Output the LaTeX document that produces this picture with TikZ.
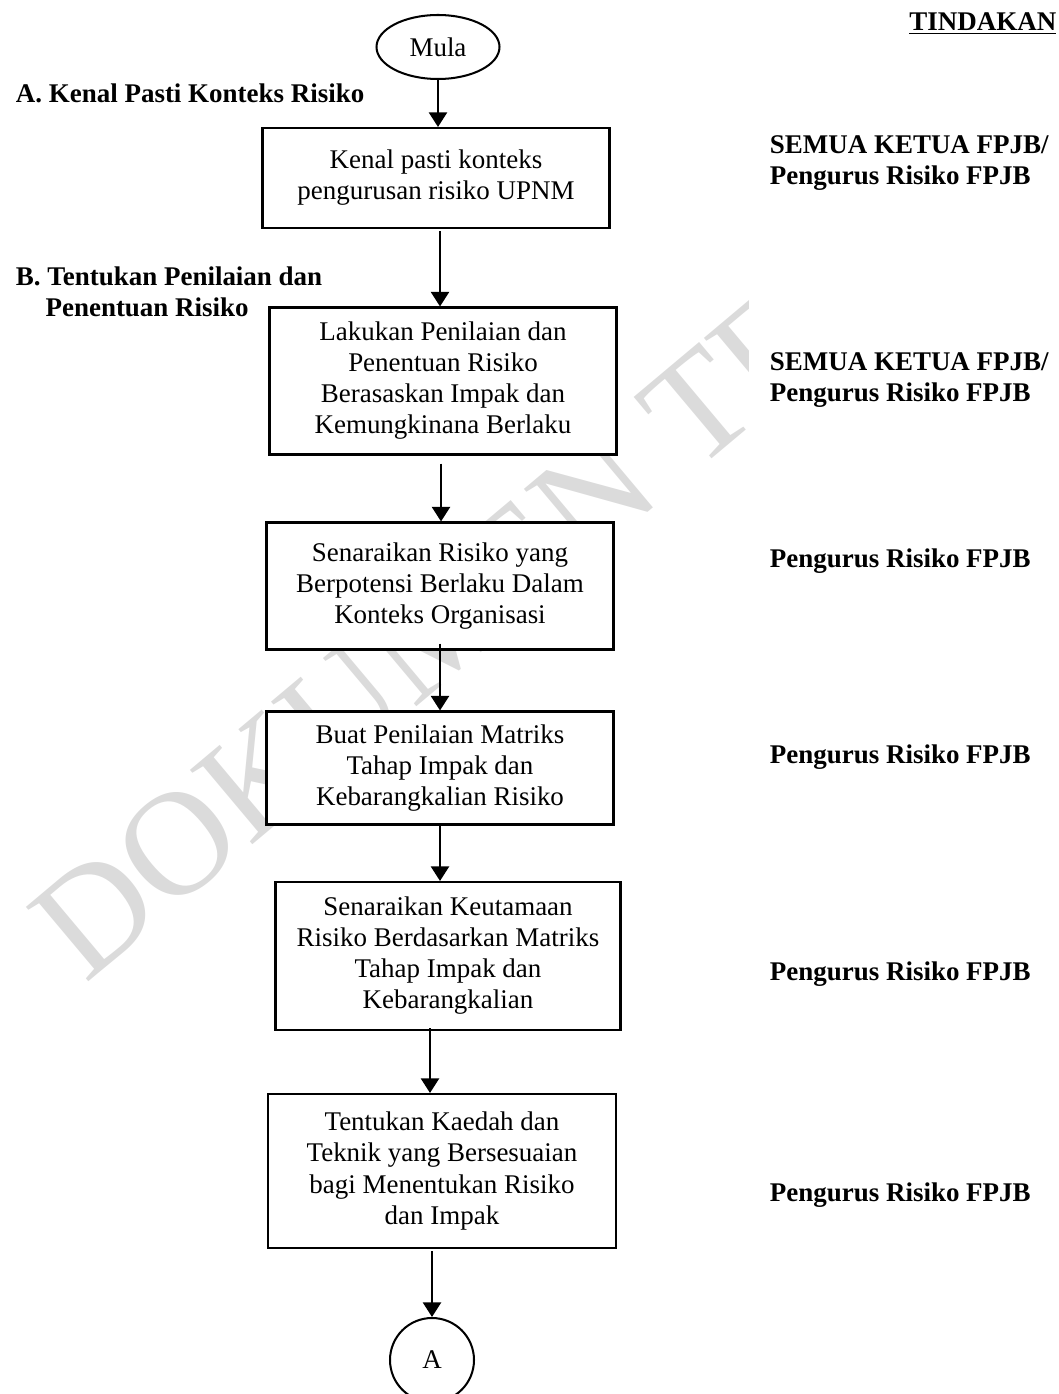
\documentclass[tikz,border=0pt]{standalone}
\usepackage{fontspec}
\setmainfont{Liberation Serif}
\usetikzlibrary{arrows.meta, shapes.geometric}

\newcommand{\pxl}{0.445pt}
\newcommand{\teks}{\fontsize{12}{13.8}\selectfont}

\tikzset{
  langkah/.style={draw, line width=0.9pt, fill=white, align=center, inner sep=2pt},
  panah/.style={line width=1.1pt, -{Triangle[length=6.5pt,width=8pt]}},
  tajuk/.style={anchor=west, font=\teks\bfseries, align=left},
  pegawai/.style={anchor=west, font=\teks\bfseries, align=left},
}

\begin{document}
\begin{tikzpicture}[x=\pxl, y=-\pxl, font=\teks]
\useasboundingbox (0,0) rectangle (1059,1394);

% tera air
\begin{scope}
\clip (0,0) rectangle (748,1394);
\node[rotate=40, text=black!14, anchor=base west, inner sep=0pt,
  font=\fontsize{66}{66}\selectfont] (tera) at (85,985) {DOKUMEN TERKAWAL};
\end{scope}

% carta alir
\node[draw, ellipse, line width=0.9pt, minimum width=123*\pxl, minimum height=64*\pxl, inner sep=0pt] (mula) at (438,47) {Mula};
\node[langkah, minimum width=347*\pxl, minimum height=100*\pxl] (b1) at (436,178)
  {Kenal pasti konteks\\pengurusan risiko UPNM};
\node[langkah, minimum width=347*\pxl, minimum height=147*\pxl] (b2) at (443,381)
  {Lakukan Penilaian dan\\Penentuan Risiko\\Berasaskan Impak dan\\Kemungkinana Berlaku};
\node[langkah, minimum width=347*\pxl, minimum height=127*\pxl] (b3) at (440,586)
  {Senaraikan Risiko yang\\Berpotensi Berlaku Dalam\\Konteks Organisasi};
\node[langkah, minimum width=347*\pxl, minimum height=113*\pxl] (b4) at (440,768)
  {Buat Penilaian Matriks\\Tahap Impak dan\\Kebarangkalian Risiko};
\node[langkah, minimum width=345*\pxl, minimum height=148*\pxl] (b5) at (448,956)
  {Senaraikan Keutamaan\\Risiko Berdasarkan Matriks\\Tahap Impak dan\\Kebarangkalian};
\node[langkah, minimum width=348*\pxl, minimum height=154*\pxl] (b6) at (442,1171)
  {Tentukan Kaedah dan\\Teknik yang Bersesuaian\\bagi Menentukan Risiko\\dan Impak};
\node[draw, circle, line width=0.9pt, minimum size=84*\pxl, inner sep=0pt] (sambung) at (432,1360) {A};

\draw[panah] (mula.south) -- (mula.south |- b1.north);
\draw[panah] ([xshift=4*\pxl, yshift=-2*\pxl]b1.south) -- ([xshift=4*\pxl]b1.south |- b2.north);
\draw[panah] ([xshift=-2*\pxl, yshift=-8*\pxl]b2.south) -- ([xshift=-2*\pxl]b2.south |- b3.north);
\draw[panah] ([yshift=7*\pxl]b3.south) -- (b3.south |- b4.north);
\draw[panah] (b4.south) -- (b4.south |- b5.north);
\draw[panah] ([xshift=-18*\pxl, yshift=3*\pxl]b5.south) -- ([xshift=-18*\pxl]b5.south |- b6.north);
\draw[panah] ([xshift=-10*\pxl, yshift=-2*\pxl]b6.south) -- (sambung.north);

% tajuk bahagian
\node[tajuk] (ta) at (8,93) {A. Kenal Pasti Konteks Risiko};
\node[tajuk] (tb) at (8,292) {B. Tentukan Penilaian dan\\\hspace*{1.1em}Penentuan Risiko};

% tindakan
\node[anchor=east, font=\teks\bfseries, inner sep=1pt] (tindakan) at (1059,24) {\underline{TINDAKAN}};
\node[pegawai] (p1) at (762,163) {SEMUA KETUA FPJB/\\Pengurus Risiko FPJB};
\node[pegawai] (p2) at (762,380) {SEMUA KETUA FPJB/\\Pengurus Risiko FPJB};
\node[pegawai] (p3) at (762,561) {Pengurus Risiko FPJB};
\node[pegawai] (p4) at (762,757) {Pengurus Risiko FPJB};
\node[pegawai] (p5) at (762,974) {Pengurus Risiko FPJB};
\node[pegawai] (p6) at (762,1195) {Pengurus Risiko FPJB};
\end{tikzpicture}
\end{document}
